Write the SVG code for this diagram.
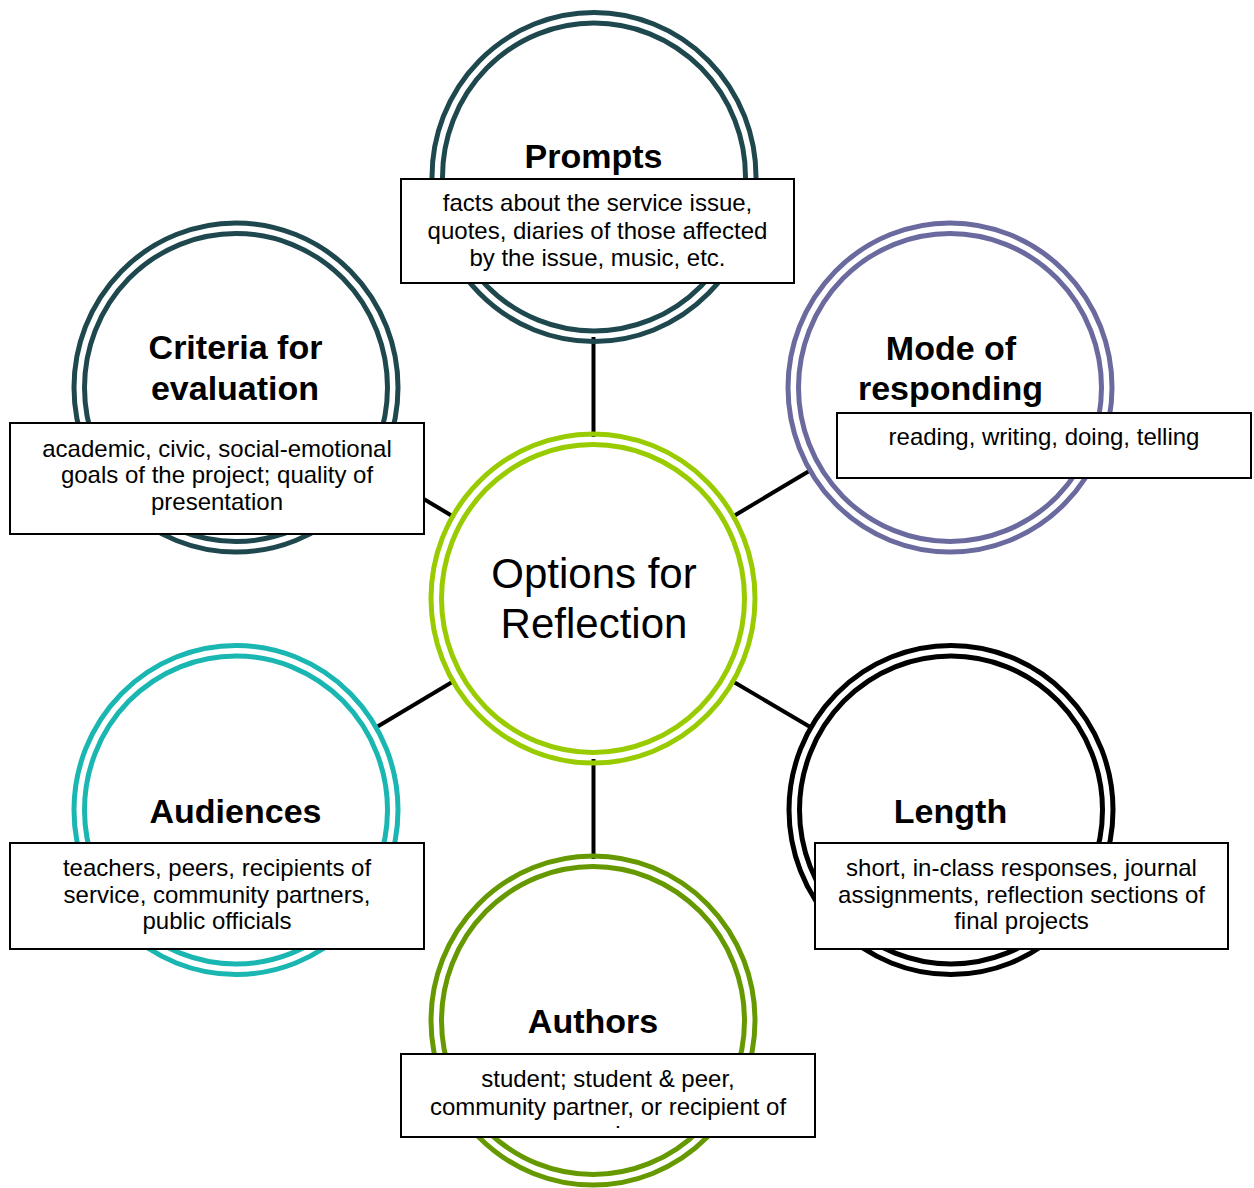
<svg xmlns="http://www.w3.org/2000/svg" width="1254" height="1188" viewBox="0 0 1254 1188">
<style>
.ring{fill:none;stroke-width:5}
.box{fill:#fff;stroke:#000;stroke-width:2}
.title{font-family:"Liberation Sans",Arial,sans-serif;font-weight:bold;font-size:34px;text-anchor:middle;fill:#000}
.desc{font-family:"Liberation Sans",Arial,sans-serif;font-size:24px;text-anchor:middle;fill:#000}
.main{font-family:"Liberation Sans",Arial,sans-serif;font-size:42px;text-anchor:middle;fill:#000}
.conn{stroke:#000;stroke-width:4;fill:none}
</style>
<defs>
<clipPath id="authClip"><rect x="402" y="1055" width="412" height="74.5"/></clipPath>
</defs>
<rect width="1254" height="1188" fill="#fff"/>
<g id="connectors">
<line class="conn" x1="593.5" y1="437" x2="593.5" y2="337"/>
<line class="conn" x1="593.5" y1="759" x2="593.5" y2="859"/>
<line class="conn" x1="731.7" y1="517.2" x2="811.3" y2="469.8"/>
<line class="conn" x1="731.7" y1="680.8" x2="812.3" y2="728.2"/>
<line class="conn" x1="454.3" y1="680.8" x2="374.7" y2="728.2"/>
<line class="conn" x1="454.3" y1="517.2" x2="374.7" y2="469.8"/>
</g>
<g id="center">
<ellipse class="ring" cx="593" cy="598.5" rx="162" ry="164.5" stroke="#99CC00"/>
<ellipse class="ring" cx="593" cy="598.5" rx="151.5" ry="154" stroke="#99CC00"/>
<text class="main" x="594" y="588">Options for</text>
<text class="main" x="594" y="638">Reflection</text>
</g>
<g id="prompts">
<ellipse class="ring" cx="594" cy="177" rx="162" ry="164.5" stroke="#1E484E"/>
<ellipse class="ring" cx="594" cy="177" rx="151.5" ry="154" stroke="#1E484E"/>
<text class="title" x="593.5" y="168">Prompts</text>
<rect class="box" x="401" y="179" width="393" height="104"/>
<text class="desc" x="597.5" y="211">facts about the service issue,</text>
<text class="desc" x="597.5" y="238.5">quotes, diaries of those affected</text>
<text class="desc" x="597.5" y="266">by the issue, music, etc.</text>
</g>
<g id="mode">
<ellipse class="ring" cx="950" cy="387.5" rx="162" ry="164.5" stroke="#6B6A9F"/>
<ellipse class="ring" cx="950" cy="387.5" rx="151.5" ry="154" stroke="#6B6A9F"/>
<text class="title" x="951" y="360">Mode of</text>
<text class="title" x="950.5" y="400">responding</text>
<rect class="box" x="837" y="413" width="414" height="65"/>
<text class="desc" x="1044" y="445">reading, writing, doing, telling</text>
</g>
<g id="criteria">
<ellipse class="ring" cx="236" cy="387.5" rx="162" ry="164.5" stroke="#1E484E"/>
<ellipse class="ring" cx="236" cy="387.5" rx="151.5" ry="154" stroke="#1E484E"/>
<text class="title" x="235.5" y="359">Criteria for</text>
<text class="title" x="235" y="400">evaluation</text>
<rect class="box" x="10" y="423" width="414" height="111"/>
<text class="desc" x="217" y="456.5">academic, civic, social-emotional</text>
<text class="desc" x="217" y="483.3">goals of the project; quality of</text>
<text class="desc" x="217" y="510">presentation</text>
</g>
<g id="audiences">
<ellipse class="ring" cx="236" cy="810" rx="162" ry="164.5" stroke="#1AB6B2"/>
<ellipse class="ring" cx="236" cy="810" rx="151.5" ry="154" stroke="#1AB6B2"/>
<text class="title" x="235.5" y="823">Audiences</text>
<rect class="box" x="10" y="843" width="414" height="106"/>
<text class="desc" x="217" y="876">teachers, peers, recipients of</text>
<text class="desc" x="217" y="902.7">service, community partners,</text>
<text class="desc" x="217" y="929.3">public officials</text>
</g>
<g id="length">
<ellipse class="ring" cx="951" cy="810" rx="162" ry="164.5" stroke="#000"/>
<ellipse class="ring" cx="951" cy="810" rx="151.5" ry="154" stroke="#000"/>
<text class="title" x="950.5" y="823">Length</text>
<rect class="box" x="815" y="843" width="413" height="106"/>
<text class="desc" x="1021.5" y="876">short, in-class responses, journal</text>
<text class="desc" x="1021.5" y="902.7">assignments, reflection sections of</text>
<text class="desc" x="1021.5" y="929.3">final projects</text>
</g>
<g id="authors">
<ellipse class="ring" cx="593" cy="1020.5" rx="162" ry="164.5" stroke="#669900"/>
<ellipse class="ring" cx="593" cy="1020.5" rx="151.5" ry="154" stroke="#669900"/>
<text class="title" x="593" y="1033">Authors</text>
<rect class="box" x="401" y="1054" width="414" height="83"/>
<g clip-path="url(#authClip)">
<text class="desc" x="608" y="1087">student; student &amp; peer,</text>
<text class="desc" x="608" y="1115">community partner, or recipient of</text>
<text class="desc" x="608" y="1143">service</text>
</g>
</g>
</svg>
